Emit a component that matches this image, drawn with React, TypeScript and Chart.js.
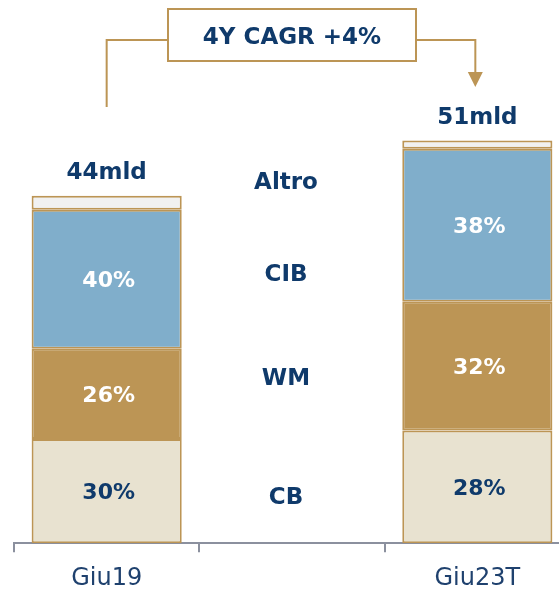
import { useEffect, useRef } from "react";
import { Chart, registerables } from "chart.js";

Chart.register(...registerables);

// ---- data ----
const categories = ["Giu19", "", "Giu23T"];
const totals: (number | null)[] = [44, null, 51];
const totalLabels = ["44mld", "", "51mld"];
const cbShare: (number | null)[] = [30, null, 28];
const wmShare: (number | null)[] = [26, null, 32];
const cibShare: (number | null)[] = [40, null, 38];
const altroShare: (number | null)[] = [4, null, 2];
const segmentNames = ["CB", "WM", "CIB", "Altro"];
const segmentNameLevels = [6.0, 21.0, 34.2, 45.9];
const cagrText = "4Y CAGR +4%";

// ---- style ----
const NAVY = "#0f3a6b";
const GOLD = "#bc9555";
const AXIS = "#8b909e";
const FONT = "'DejaVu Sans', sans-serif";

const toValues = (share: (number | null)[]) =>
  share.map((s, i) => (s == null || totals[i] == null ? null : ((totals[i] as number) * s) / 100));

const overlay = {
  id: "overlay",
  afterDatasetsDraw(chart: any) {
    const { ctx, scales } = chart;
    const x = scales.x;
    const y = scales.y;
    ctx.save();
    // percentage labels inside segments
    const shares = [cbShare, wmShare, cibShare];
    const colors = [NAVY, "#ffffff", "#ffffff"];
    ctx.textAlign = "center";
    ctx.textBaseline = "alphabetic";
    ctx.font = `bold 22px ${FONT}`;
    shares.forEach((arr, di) => {
      const meta = chart.getDatasetMeta(di);
      arr.forEach((s, j) => {
        if (s == null) return;
        const el: any = meta.data[j];
        const cy = (el.y + el.base) / 2;
        ctx.fillStyle = colors[di];
        ctx.fillText(`${s}%`, el.x + 2, cy + 8);
      });
    });
    // totals above bars
    const topMeta = chart.getDatasetMeta(3);
    ctx.fillStyle = NAVY;
    ctx.font = `bold 23px ${FONT}`;
    totalLabels.forEach((t, j) => {
      if (!t) return;
      const el: any = topMeta.data[j];
      ctx.fillText(t, el.x, el.y - 17);
    });
    // segment names in the middle column
    const mx = x.getPixelForValue(1) - 6;
    segmentNames.forEach((n, k) => {
      const py = y.getPixelForValue(segmentNameLevels[k]);
      ctx.fillText(n, mx, py + 8);
    });
    // CAGR box + bracket
    const leftEl: any = topMeta.data[0];
    const rightEl: any = topMeta.data[2];
    const bx1 = x.getPixelForValue(1) - 124;
    const bx2 = x.getPixelForValue(1) + 124;
    const by1 = 9;
    const by2 = 61;
    const lineY = 40;
    const lx = leftEl.x;
    const rx = rightEl.x - 2;
    ctx.strokeStyle = GOLD;
    ctx.lineWidth = 2;
    ctx.strokeRect(bx1, by1, bx2 - bx1, by2 - by1);
    ctx.beginPath();
    ctx.moveTo(lx, 107);
    ctx.lineTo(lx, lineY);
    ctx.lineTo(bx1, lineY);
    ctx.moveTo(bx2, lineY);
    ctx.lineTo(rx, lineY);
    ctx.lineTo(rx, 73);
    ctx.stroke();
    ctx.fillStyle = GOLD;
    ctx.beginPath();
    ctx.moveTo(rx - 7.5, 72);
    ctx.lineTo(rx + 7.5, 72);
    ctx.lineTo(rx, 87);
    ctx.closePath();
    ctx.fill();
    ctx.fillStyle = NAVY;
    ctx.font = `bold 23px ${FONT}`;
    ctx.fillText(cagrText, (bx1 + bx2) / 2, 44);
    ctx.restore();
  },
};

export default function App() {
  const ref = useRef<HTMLCanvasElement>(null);
  useEffect(() => {
    document.body.style.margin = "0";
    const common = {
      borderColor: GOLD,
      borderWidth: 2,
      borderSkipped: false as const,
      barPercentage: 0.81,
      categoryPercentage: 1,
    };
    const chart = new Chart(ref.current as HTMLCanvasElement, {
      type: "bar",
      data: {
        labels: categories,
        datasets: [
          { label: "CB", data: toValues(cbShare), backgroundColor: "#e8e2d0", ...common },
          { label: "WM", data: toValues(wmShare), backgroundColor: "#bc9555", ...common },
          { label: "CIB", data: toValues(cibShare), backgroundColor: "#80aecb", ...common },
          { label: "Altro", data: toValues(altroShare), backgroundColor: "#f1f1f1", ...common },
        ],
      },
      options: {
        responsive: false,
        animation: false,
        devicePixelRatio: 1,
        layout: { padding: { left: 14, right: 30, top: 109, bottom: 15 } },
        plugins: { legend: { display: false }, tooltip: { enabled: false } },
        scales: {
          x: {
            stacked: true,
            offset: true,
            grid: {
              offset: true,
              drawOnChartArea: false,
              drawTicks: true,
              tickLength: 9,
              color: AXIS,
              lineWidth: 2,
            },
            border: { display: true, color: AXIS, width: 2 },
            ticks: { color: "#1f416e", font: { family: FONT, size: 24 }, padding: 12 },
          },
          y: { stacked: true, display: false, min: 0, max: 55 },
        },
      },
      plugins: [overlay],
    });
    return () => chart.destroy();
  }, []);
  return (
    <div
      style={{
        position: "fixed",
        left: 0,
        top: 0,
        width: 559,
        height: 590,
        overflow: "hidden",
        background: "#ffffff",
      }}
    >
      <canvas ref={ref} width={600} height={620} style={{ display: "block", width: 600, height: 620 }} />
    </div>
  );
}
